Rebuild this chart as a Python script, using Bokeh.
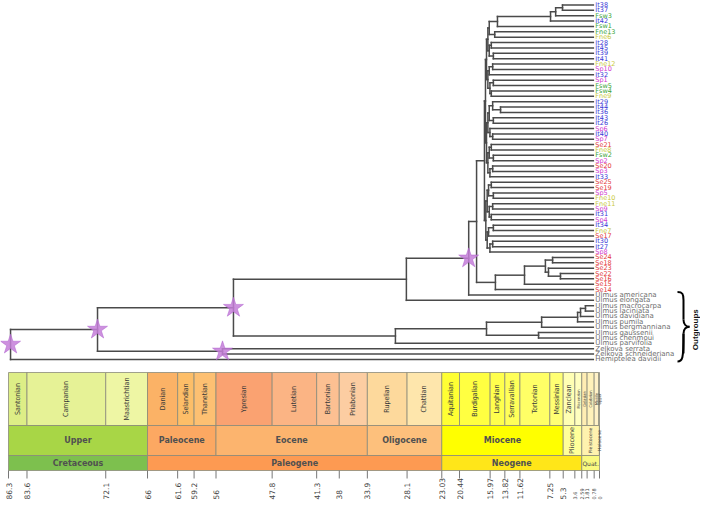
import math
from bokeh.plotting import figure
from bokeh.models import Range1d, ColumnDataSource
from bokeh.embed import file_html
from bokeh.resources import INLINE
from bokeh.core.properties import value

# ---------------- geological time scale (Ma) ----------------
stage_names = ["Santonian", "Campanian", "Maastrichtian", "Danian", "Selandian", "Thanetian",
               "Ypresian", "Lutetian", "Bartonian", "Priabonian", "Rupelian", "Chattian",
               "Aquitanian", "Burdigalian", "Langhian", "Serravallian", "Tortonian", "Messinian",
               "Zanclean", "Piacenzian", "Gelasian", "Calabrian", "Middle", "Upper"]
stage_start = [86.3, 83.6, 72.1, 66, 61.6, 59.2, 56, 47.8, 41.3, 38, 33.9, 28.1,
               23.03, 20.44, 15.97, 13.82, 11.62, 7.25, 5.3, 3.6, 2.59, 1.81, 0.78, 0.126]
stage_end = [83.6, 72.1, 66, 61.6, 59.2, 56, 47.8, 41.3, 38, 33.9, 28.1, 23.03,
             20.44, 15.97, 13.82, 11.62, 7.25, 5.3, 3.6, 2.59, 1.81, 0.78, 0.126, 0]
stage_colors = ["#DDEE86", "#E6F296", "#EEF6A4", "#FBB266", "#FDBE68", "#FDC072",
                "#FAA271", "#FBB484", "#FCC092", "#FCCDA2", "#FDD99C", "#FEE6AC",
                "#FFFF33", "#FFFF41", "#FFFF4D", "#FFFF59", "#FFFF66", "#FFFF73",
                "#FFFFB3", "#FFFFBF", "#FFEDB3", "#FFF2BA", "#FFF2C7", "#FFF2D3"]

epoch_names = ["Upper", "Paleocene", "Eocene", "Oligocene", "Miocene", "Pliocene", "Pleistocene", "Holocene"]
epoch_start = [86.3, 66, 56, 33.9, 23.03, 5.3, 2.59, 0.0117]
epoch_end = [66, 56, 33.9, 23.03, 5.3, 2.59, 0.0117, 0]
epoch_colors = ["#A8D646", "#FCA862", "#FCB46E", "#FDC07C", "#FFFF00", "#FFFF99", "#FFF2AE", "#FEF2E0"]

period_names = ["Cretaceous", "Paleogene", "Neogene", "Quat."]
period_start = [86.3, 66, 23.03, 2.59]
period_end = [66, 23.03, 2.59, 0]
period_colors = ["#7DC04E", "#FD9A52", "#FFE619", "#F9F97F"]

tick_ages = [86.3, 83.6, 72.1, 66, 61.6, 59.2, 56, 47.8, 41.3, 38, 33.9, 28.1,
             23.03, 20.44, 15.97, 13.82, 11.62, 7.25, 5.3, 3.6, 2.59, 1.81, 0.78, 0]
tick_labels = ["86.3", "83.6", "72.1", "66", "61.6", "59.2", "56", "47.8", "41.3", "38", "33.9", "28.1",
               "23.03", "20.44", "15.97", "13.82", "11.62", "7.25", "5.3", "3.6", "2.59", "1.81", "0.78", "0"]

# ---------------- dated tree (node ages in Ma, tips listed top to bottom) ----------------
TIP_AGE = 0.9

G1 = (14.9, (7.15, (6.4, (5.4, "It38", "It37"), "Fsw3"), "It42"), "Fsw1")
G2 = (15.3, "Fne13", "Fne6")
G3 = (15.8, "It28", "It45")
G4 = (15.5, "It39", "It41")
G5 = (15.6, "Fne12", "Sp10")
G6 = "It32"
G7 = (15.5, "Sp1", "Fsw5")
G8 = (15.8, "Fsw4", "Fne9")
G9 = (15.6, "It29", (14.45, "It44", "It36"))
G10 = (15.5, "It43", "It26")
G11 = "Sp6"
G12 = (15.6, "It40", "Sp7")
G13 = (15.8, "Se21", "Fne8")
G14 = (15.5, "Fsw2", "Sp2")
G15 = (15.6, "Se20", "Sp3")
G16 = "It33"
G17 = (15.8, "Se25", "Se19")
G18 = (15.5, "Sp5", "Fne10")
G19 = (15.6, "Fne11", "Sp9")
G20 = (15.8, "It31", "Sp4")
G21 = (15.5, "It34", "Fne7")
G22 = "Se17"
G23 = (15.6, "It30", "It27")
G24 = "Sp8"

UA = (16.5, (16.3, (16.1, G1, G2), (16.1, G3, G4)), (16.3, (16.1, G5, G6), (16.0, G7, G8)))
UB = (16.5, (16.3, (16.1, G9, G10), (16.0, G11, G12)), (16.3, (16.1, G13, G14), (16.0, G15, G16)))
LB = (16.6, (16.4, (16.2, G17, G18), (16.1, G19, G20)), (16.4, (16.2, G21, G22), (16.0, G23, G24)))
I1 = (16.8, (16.65, UA, UB), LB)
SE = (15.2, (10.95, (7.9, (6.85, "Se24", "Se18"), (7.45, "Se23", (5.7, "Se22", "Se16"))), "Se15"), "Se14")
NODE_D = (19.1, (17.95, I1, SE), "Ulmus americana")
NODE_C = (28.2, NODE_D, "Ulmus elongata")
ULM = (29.8, (16.5, (8.45, (3.2, (2.77, (2.05, "Ulmus macrocarpa", "Ulmus laciniata"), "Ulmus davidiana"),
                            "Ulmus pumila"), "Ulmus bergmanniana"),
              (8.9, "Ulmus gaussenii", "Ulmus chenmoui")), "Ulmus parvifolia")
NODE_B = (53.45, NODE_C, ULM)
ZEL = (55.05, "Zelkova serrata", "Zelkova schneideriana")
NODE_A = (73.3, NODE_B, ZEL)
ROOT = (86.0, NODE_A, "Hemiptelea davidii")
star_nodes = [ROOT, NODE_A, NODE_B, ZEL, NODE_D]

group_colors = {"It": "#3838d6", "Fsw": "#3aa63a", "Fne": "#c9c93a", "Sp": "#d03cd0", "Se": "#e33a3a"}
label_overrides = {"Fne13": "#3aa63a"}
OUT_COLOR = "#6e6e6e"

# ---------------- layout ----------------
W, H = 700, 502
PX_PER_MA = 591 / 86.3          # 86.3 Ma at x=8 px, 0 Ma at x=599 px
X_START = 599 / PX_PER_MA
X_END = X_START - W / PX_PER_MA
ROW0, ROW_STEP = H - 4.5, 5.37   # tip rows (y grows upward)
Y_STAGE_T, Y_STAGE_B = H - 372, H - 425
Y_EPOCH_B = H - 455
Y_PERIOD_B = H - 470
Y_TICK_B = H - 478
Y_TICKLAB = H - 499

def fx(px):  # horizontal pixel -> age
    return X_START - px / PX_PER_MA

def wpx(a, b):
    return abs(a - b) * PX_PER_MA

p = figure(width=W, height=H, x_range=Range1d(X_START, X_END), y_range=Range1d(0, H),
           output_backend="svg", toolbar_location=None, min_border=0,
           x_axis_type=None, y_axis_type=None, background_fill_color="white")
p.outline_line_color = None

# tree layout
seg = dict(x0=[], y0=[], x1=[], y1=[])
tips = dict(x=[], y=[], name=[], color=[])
stars = dict(x=[], y=[])
counter = [0]

def layout(node):
    if isinstance(node, str):
        y = ROW0 - ROW_STEP * counter[0]
        counter[0] += 1
        tips["x"].append(TIP_AGE); tips["y"].append(y); tips["name"].append(node)
        if node in label_overrides:
            c = label_overrides[node]
        else:
            c = OUT_COLOR
            for k in ("Fsw", "Fne", "It", "Sp", "Se"):
                if node.startswith(k):
                    c = group_colors[k]; break
        tips["color"].append(c)
        return TIP_AGE, y
    age = node[0]
    pts = [layout(k) for k in node[1:]]
    ys = [q[1] for q in pts]
    seg["x0"].append(age); seg["y0"].append(ys[0]); seg["x1"].append(age); seg["y1"].append(ys[-1])
    for (cx, cy) in pts:
        seg["x0"].append(age); seg["y0"].append(cy); seg["x1"].append(cx); seg["y1"].append(cy)
    y = (ys[0] + ys[-1]) / 2
    if any(node is s for s in star_nodes):
        stars["x"].append(age); stars["y"].append(y)
    return age, y

layout(ROOT)

p.segment(x0="x0", y0="y0", x1="x1", y1="y1", source=ColumnDataSource(seg),
          line_color="#4a4a4a", line_width=1.5, line_cap="square")
p.scatter(x="x", y="y", source=ColumnDataSource(stars), marker="star", size=21,
          fill_color="#c47ed8", fill_alpha=0.85, line_color="#b060d0", line_alpha=0.5)

def is_out(n):
    return n.startswith("Ulmus") or n.startswith("Zelkova") or n.startswith("Hemiptelea")

ing = {k: [v for v, n in zip(tips[k], tips["name"]) if not is_out(n)] for k in tips}
outg = {k: [v for v, n in zip(tips[k], tips["name"]) if is_out(n)] for k in tips}
p.text(x="x", y="y", text="name", source=ColumnDataSource(ing), x_offset=2,
       text_color="color", text_font=value("DejaVu Sans"), text_font_size="6.5px",
       text_baseline="middle", text_align="left")
p.text(x="x", y="y", text="name", source=ColumnDataSource(outg), x_offset=2,
       text_color="color", text_font=value("DejaVu Sans"), text_font_size="7px",
       text_baseline="middle", text_align="left")

# outgroup brace
yt = outg["y"][0] + 3
yb = outg["y"][-1] - 2
ym = (yt + yb) / 2
xl, xm, xr = fx(677), fx(683), fx(689)
bz = dict(x0=[xl, xm, xr, xm], y0=[yt, ym + 7, ym, ym - 7],
          x1=[xm, xr, xm, xl], y1=[yt - 8, ym, ym - 7, yb],
          cx0=[fx(682), xm, fx(686), xm], cy0=[yt, ym + 2, ym, yb + 2],
          cx1=[xm, fx(686), xm, fx(682)], cy1=[yt - 2, ym, ym - 2, yb])
p.bezier(x0="x0", y0="y0", x1="x1", y1="y1", cx0="cx0", cy0="cy0", cx1="cx1", cy1="cy1",
         source=ColumnDataSource(bz), line_color="black", line_width=2)
p.segment(x0=[xm, xm], y0=[yt - 8, ym - 7], x1=[xm, xm], y1=[ym + 7, yb + 8],
          line_color="black", line_width=2)
p.text(x=[fx(695)], y=[ym - 3], text=["Outgroups"], angle=math.pi / 2,
       text_font=value("Liberation Sans"), text_font_style="bold", text_font_size="8px",
       text_align="center", text_baseline="middle", text_color="#111111")

# time scale: stages
st = dict(l=stage_start, r=stage_end, c=stage_colors, n=stage_names,
          xm=[(a + b) / 2 for a, b in zip(stage_start, stage_end)],
          fs=["7px" if wpx(a, b) >= 9 else "4px" for a, b in zip(stage_start, stage_end)])
src = ColumnDataSource(st)
p.quad(left="l", right="r", top=Y_STAGE_T, bottom=Y_STAGE_B, fill_color="c", source=src,
       line_color="#8a8a7a", line_width=0.8)
p.text(x="xm", y=(Y_STAGE_T + Y_STAGE_B) / 2, text="n", source=src, angle=math.pi / 2,
       text_font=value("Liberation Sans Narrow, DejaVu Sans Condensed, sans-serif"),
       text_font_size="fs", text_align="center", text_baseline="middle", text_color="#3a3a3a")

# epochs
ep = dict(l=epoch_start, r=epoch_end, c=epoch_colors, n=epoch_names,
          xm=[(a + b) / 2 for a, b in zip(epoch_start, epoch_end)])
p.quad(left="l", right="r", top=Y_STAGE_B, bottom=Y_EPOCH_B, fill_color="c",
       source=ColumnDataSource(ep), line_color="#8a8a7a", line_width=0.8)
wide = [i for i in range(len(epoch_names)) if wpx(epoch_start[i], epoch_end[i]) >= 30]
narrow = [i for i in range(len(epoch_names)) if i not in wide]
p.text(x=[ep["xm"][i] for i in wide], y=(Y_STAGE_B + Y_EPOCH_B) / 2, text=[epoch_names[i] for i in wide],
       text_font=value("DejaVu Sans"), text_font_style="bold", text_font_size="8px",
       text_align="center", text_baseline="middle", text_color="#505050")
p.text(x=[ep["xm"][i] for i in narrow], y=(Y_STAGE_B + Y_EPOCH_B) / 2, text=[epoch_names[i] for i in narrow],
       angle=math.pi / 2, text_font=value("DejaVu Sans"),
       text_font_size=["6.5px" if wpx(epoch_start[i], epoch_end[i]) >= 18 else "4.5px" for i in narrow],
       text_align="center", text_baseline="middle", text_color="#444444")

# periods
pe = dict(l=period_start, r=period_end, c=period_colors, n=period_names,
          xm=[(a + b) / 2 for a, b in zip(period_start, period_end)])
p.quad(left="l", right="r", top=Y_EPOCH_B, bottom=Y_PERIOD_B, fill_color="c",
       source=ColumnDataSource(pe), line_color="#8a8a7a", line_width=0.8)
big = [i for i in range(len(period_names)) if wpx(period_start[i], period_end[i]) >= 40]
small = [i for i in range(len(period_names)) if i not in big]
p.text(x=[pe["xm"][i] for i in big], y=(Y_EPOCH_B + Y_PERIOD_B) / 2, text=[period_names[i] for i in big],
       text_font=value("DejaVu Sans"), text_font_style="bold", text_font_size="8px",
       text_align="center", text_baseline="middle", text_color="#505050")
p.text(x=[pe["xm"][i] for i in small], y=(Y_EPOCH_B + Y_PERIOD_B) / 2, text=[period_names[i] for i in small],
       text_font=value("DejaVu Sans"), text_font_size="6px",
       text_align="center", text_baseline="middle", text_color="#444444")

# ticks and labels
tk = dict(x=tick_ages, t=tick_labels, fs=["7.5px" if a >= 5 else "5px" for a in tick_ages])
tsrc = ColumnDataSource(tk)
p.segment(x0="x", y0=Y_PERIOD_B, x1="x", y1=Y_TICK_B, source=tsrc, line_color="#777777", line_width=1)
p.text(x="x", y=Y_TICKLAB, text="t", source=tsrc, angle=math.pi / 2,
       text_font=value("DejaVu Sans"), text_font_size="fs", text_align="left",
       text_baseline="middle", text_color="#444444")

open("out.html", "w").write(file_html(p, INLINE))
